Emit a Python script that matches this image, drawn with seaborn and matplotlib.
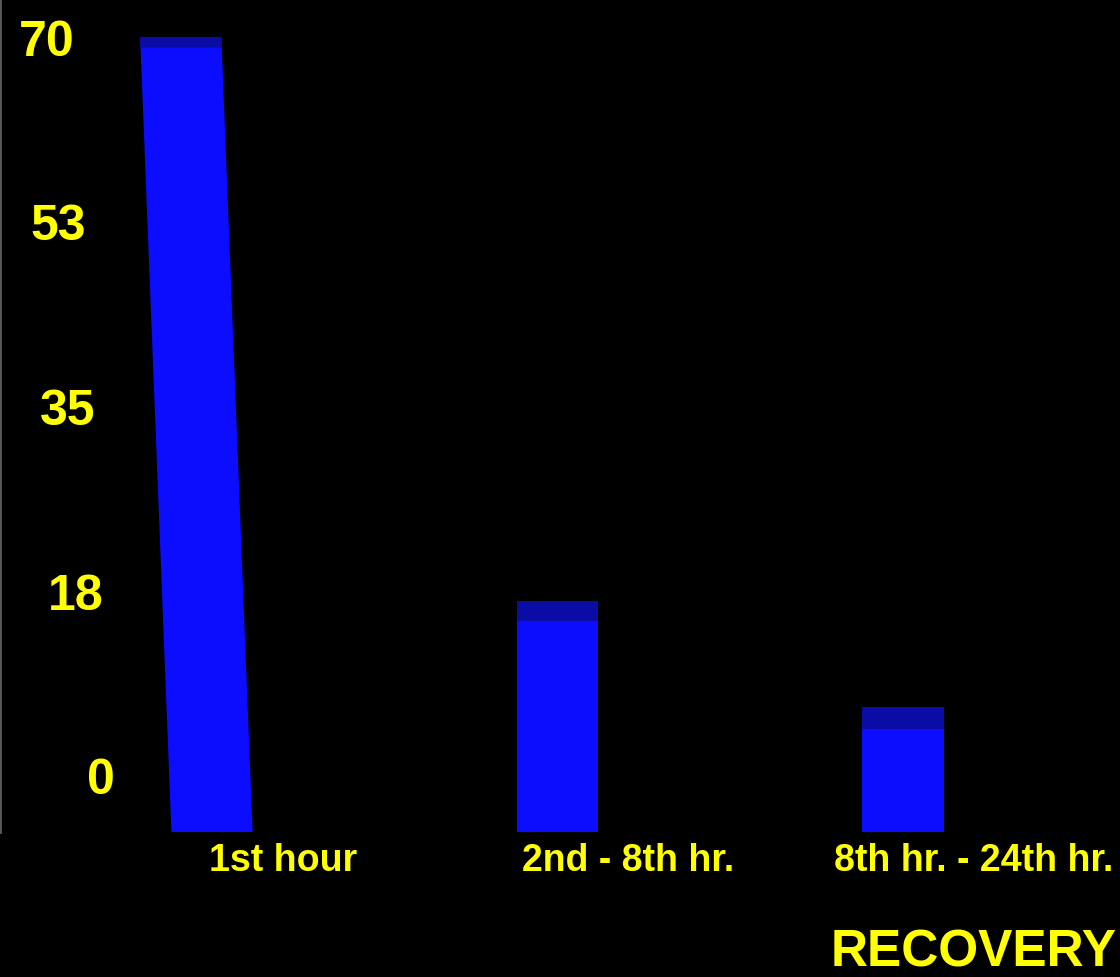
import numpy as np
import matplotlib
matplotlib.use("Agg")
import matplotlib.pyplot as plt
from matplotlib.transforms import Affine2D
import seaborn as sns

# Recovery per time window
CATEGORIES = ["1st hour", "2nd - 8th hr.", "8th hr. - 24th hr."]
VALUES = [70, 16.5, 6.5]
Y_TICKS = [0, 17.5, 35, 52.5, 70]
Y_LABELS = ["0", "18", "35", "53", "70"]
TITLE = "RECOVERY"

# styling
FACE = "#0c0cff"
TOP = "#0b0ba6"
YELLOW = "#ffff00"
FLOOR = -5.4            # depth of the box floor below zero
Y_TOP = 73.6
CAP_DEPTH = [1.0, 1.9, 2.1]   # visible top face of each box
LEAN = -0.0012          # perspective lean of the front box
BAR_W = 0.235
YLABEL_X = [101, 76, 68, 58, 47]   # pixel centres of the y labels (perspective)

sns.set_theme(style="dark", rc={"axes.facecolor": "black",
                                "figure.facecolor": "black",
                                "savefig.facecolor": "black"})
plt.rcParams["font.family"] = ["Liberation Sans", "DejaVu Sans"]

W, H = 1120, 978
fig = plt.figure(figsize=(W / 100, H / 100), dpi=100)
ax = fig.add_axes([0, (H - 833) / H, 1, 833 / H])

# front faces
sns.barplot(x=CATEGORIES, y=VALUES, color=FACE, saturation=1, width=BAR_W,
            linewidth=0, ax=ax)
faces = list(ax.patches)
for rect, v in zip(faces, VALUES):
    rect.set_y(FLOOR)
    rect.set_height(v - FLOOR)

# top faces
sns.barplot(x=CATEGORIES, y=VALUES, color=TOP, saturation=1, width=BAR_W,
            linewidth=0, ax=ax)
caps = [p for p in ax.patches if p not in faces]
for rect, v, d in zip(caps, VALUES, CAP_DEPTH):
    rect.set_y(v - d)
    rect.set_height(d)

ax.set_xlim(-212 / 345.5, (W - 212) / 345.5)
ax.set_ylim(FLOOR, Y_TOP)

# first box leans with the perspective
lean = (Affine2D().translate(0, -FLOOR).skew(np.arctan(LEAN), 0)
        .translate(0, FLOOR) + ax.transData)
faces[0].set_transform(lean)
caps[0].set_transform(lean)

ax.tick_params(axis="y", length=0, pad=0)
ax.tick_params(axis="x", length=0, pad=7)
ax.set_yticks(Y_TICKS, Y_LABELS)
for lab, px in zip(ax.get_yticklabels(), YLABEL_X):
    lab.set_ha("center")
    lab.set_x(px / W)
    lab.set_color(YELLOW)
    lab.set_fontsize(36)
    lab.set_fontweight("bold")

ax.set_xticks(np.arange(len(CATEGORIES)) + 0.205, CATEGORIES)
for lab in ax.get_xticklabels():
    lab.set_color(YELLOW)
    lab.set_fontsize(27)
    lab.set_fontweight("bold")

ax.set_xlabel("")
ax.set_ylabel("")
ax.grid(False)
for side, sp in ax.spines.items():
    sp.set_visible(side == "left")
ax.spines["left"].set_color("#5a5a5a")
ax.spines["left"].set_linewidth(2)

fig.text(1117 / W, (H - 967) / H, TITLE, ha="right", va="baseline",
         color=YELLOW, fontsize=37, fontweight="bold")

fig.savefig("out.png", dpi=100)
